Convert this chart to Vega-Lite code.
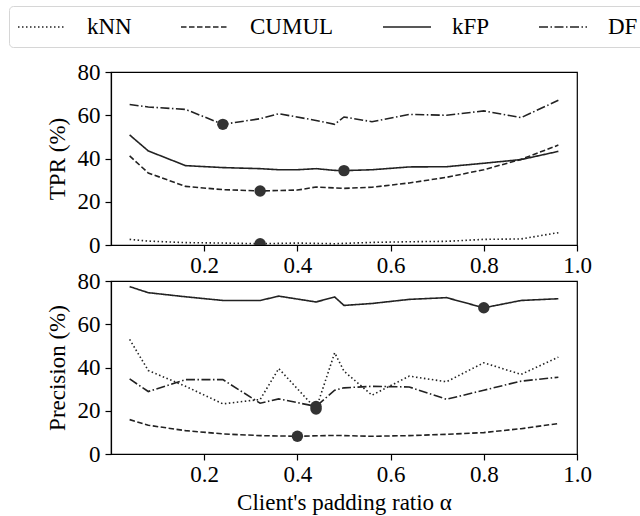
{
  "$schema": "https://vega.github.io/schema/vega-lite/v6.json",
  "padding": {"left": 8, "top": 5, "right": 0, "bottom": 0},
  "bounds": "flush",
  "spacing": 36,
  "config": {
    "font": "Liberation Serif",
    "view": {"stroke": "black", "strokeWidth": 1.2},
    "axis": {
      "domainColor": "black", "domainWidth": 1.2, "tickColor": "black", "tickWidth": 1.2, "tickSize": 6,
      "labelFont": "Liberation Serif", "labelFontSize": 23, "labelColor": "black",
      "titleFont": "Liberation Serif", "titleFontSize": 23, "titleFontWeight": "normal", "titleColor": "black",
      "grid": false
    },
    "axisX": {"labelPadding": 3, "titlePadding": 5, "labelFlush": false},
    "axisY": {"labelPadding": 5, "titlePadding": 8},
    "legend": {
      "title": null, "orient": "none", "legendX": -102, "legendY": -66, "direction": "horizontal", "columns": 4,
      "symbolType": "M-1,0H3", "symbolSize": 576, "symbolStrokeWidth": 1.5, "symbolStrokeColor": "#222222", "symbolFillColor": "transparent",
      "labelFont": "Liberation Serif", "labelFontSize": 23, "labelColor": "black", "labelOffset": 44,
      "columnPadding": 46, "padding": 8, "strokeColor": "#d6d6d6", "fillColor": "white", "cornerRadius": 4
    }
  },
  "resolve": {"scale": {"strokeDash": "shared"}, "legend": {"strokeDash": "shared"}},
  "datasets": {
    "lines": [
      {"p": "TPR", "m": "kNN", "a": 0.04, "v": 2.6},
      {"p": "TPR", "m": "kNN", "a": 0.08, "v": 1.8},
      {"p": "TPR", "m": "kNN", "a": 0.16, "v": 1.1},
      {"p": "TPR", "m": "kNN", "a": 0.24, "v": 0.9},
      {"p": "TPR", "m": "kNN", "a": 0.32, "v": 0.6},
      {"p": "TPR", "m": "kNN", "a": 0.40, "v": 0.9},
      {"p": "TPR", "m": "kNN", "a": 0.48, "v": 0.6},
      {"p": "TPR", "m": "kNN", "a": 0.56, "v": 1.2},
      {"p": "TPR", "m": "kNN", "a": 0.64, "v": 1.5},
      {"p": "TPR", "m": "kNN", "a": 0.72, "v": 1.7},
      {"p": "TPR", "m": "kNN", "a": 0.80, "v": 2.6},
      {"p": "TPR", "m": "kNN", "a": 0.88, "v": 2.8},
      {"p": "TPR", "m": "kNN", "a": 0.96, "v": 5.7},
      {"p": "TPR", "m": "CUMUL", "a": 0.04, "v": 41.2},
      {"p": "TPR", "m": "CUMUL", "a": 0.08, "v": 33.3},
      {"p": "TPR", "m": "CUMUL", "a": 0.16, "v": 27.1},
      {"p": "TPR", "m": "CUMUL", "a": 0.24, "v": 25.6},
      {"p": "TPR", "m": "CUMUL", "a": 0.32, "v": 25.0},
      {"p": "TPR", "m": "CUMUL", "a": 0.40, "v": 25.4},
      {"p": "TPR", "m": "CUMUL", "a": 0.44, "v": 26.8},
      {"p": "TPR", "m": "CUMUL", "a": 0.50, "v": 26.2},
      {"p": "TPR", "m": "CUMUL", "a": 0.56, "v": 26.7},
      {"p": "TPR", "m": "CUMUL", "a": 0.64, "v": 28.7},
      {"p": "TPR", "m": "CUMUL", "a": 0.72, "v": 31.3},
      {"p": "TPR", "m": "CUMUL", "a": 0.80, "v": 34.8},
      {"p": "TPR", "m": "CUMUL", "a": 0.88, "v": 39.6},
      {"p": "TPR", "m": "CUMUL", "a": 0.96, "v": 46.2},
      {"p": "TPR", "m": "kFP", "a": 0.04, "v": 50.9},
      {"p": "TPR", "m": "kFP", "a": 0.08, "v": 43.5},
      {"p": "TPR", "m": "kFP", "a": 0.16, "v": 36.7},
      {"p": "TPR", "m": "kFP", "a": 0.24, "v": 35.8},
      {"p": "TPR", "m": "kFP", "a": 0.32, "v": 35.3},
      {"p": "TPR", "m": "kFP", "a": 0.36, "v": 34.8},
      {"p": "TPR", "m": "kFP", "a": 0.40, "v": 34.8},
      {"p": "TPR", "m": "kFP", "a": 0.44, "v": 35.3},
      {"p": "TPR", "m": "kFP", "a": 0.48, "v": 34.5},
      {"p": "TPR", "m": "kFP", "a": 0.50, "v": 34.4},
      {"p": "TPR", "m": "kFP", "a": 0.56, "v": 34.8},
      {"p": "TPR", "m": "kFP", "a": 0.64, "v": 36.1},
      {"p": "TPR", "m": "kFP", "a": 0.72, "v": 36.2},
      {"p": "TPR", "m": "kFP", "a": 0.80, "v": 37.8},
      {"p": "TPR", "m": "kFP", "a": 0.88, "v": 39.5},
      {"p": "TPR", "m": "kFP", "a": 0.96, "v": 43.3},
      {"p": "TPR", "m": "DF", "a": 0.04, "v": 65.0},
      {"p": "TPR", "m": "DF", "a": 0.08, "v": 63.8},
      {"p": "TPR", "m": "DF", "a": 0.16, "v": 62.7},
      {"p": "TPR", "m": "DF", "a": 0.24, "v": 55.8},
      {"p": "TPR", "m": "DF", "a": 0.32, "v": 58.4},
      {"p": "TPR", "m": "DF", "a": 0.36, "v": 60.7},
      {"p": "TPR", "m": "DF", "a": 0.44, "v": 57.6},
      {"p": "TPR", "m": "DF", "a": 0.48, "v": 55.8},
      {"p": "TPR", "m": "DF", "a": 0.50, "v": 59.2},
      {"p": "TPR", "m": "DF", "a": 0.56, "v": 57.0},
      {"p": "TPR", "m": "DF", "a": 0.64, "v": 60.4},
      {"p": "TPR", "m": "DF", "a": 0.72, "v": 60.0},
      {"p": "TPR", "m": "DF", "a": 0.80, "v": 62.0},
      {"p": "TPR", "m": "DF", "a": 0.88, "v": 58.9},
      {"p": "TPR", "m": "DF", "a": 0.96, "v": 66.9},
      {"p": "Prec", "m": "kNN", "a": 0.04, "v": 53.0},
      {"p": "Prec", "m": "kNN", "a": 0.08, "v": 38.6},
      {"p": "Prec", "m": "kNN", "a": 0.16, "v": 31.3},
      {"p": "Prec", "m": "kNN", "a": 0.24, "v": 23.2},
      {"p": "Prec", "m": "kNN", "a": 0.32, "v": 25.2},
      {"p": "Prec", "m": "kNN", "a": 0.36, "v": 39.5},
      {"p": "Prec", "m": "kNN", "a": 0.44, "v": 20.8},
      {"p": "Prec", "m": "kNN", "a": 0.48, "v": 46.8},
      {"p": "Prec", "m": "kNN", "a": 0.50, "v": 38.3},
      {"p": "Prec", "m": "kNN", "a": 0.56, "v": 27.2},
      {"p": "Prec", "m": "kNN", "a": 0.64, "v": 36.0},
      {"p": "Prec", "m": "kNN", "a": 0.72, "v": 33.4},
      {"p": "Prec", "m": "kNN", "a": 0.80, "v": 42.2},
      {"p": "Prec", "m": "kNN", "a": 0.88, "v": 36.8},
      {"p": "Prec", "m": "kNN", "a": 0.96, "v": 44.8},
      {"p": "Prec", "m": "CUMUL", "a": 0.04, "v": 15.9},
      {"p": "Prec", "m": "CUMUL", "a": 0.08, "v": 13.3},
      {"p": "Prec", "m": "CUMUL", "a": 0.16, "v": 10.8},
      {"p": "Prec", "m": "CUMUL", "a": 0.24, "v": 9.3},
      {"p": "Prec", "m": "CUMUL", "a": 0.32, "v": 8.5},
      {"p": "Prec", "m": "CUMUL", "a": 0.40, "v": 8.2},
      {"p": "Prec", "m": "CUMUL", "a": 0.48, "v": 8.6},
      {"p": "Prec", "m": "CUMUL", "a": 0.56, "v": 8.2},
      {"p": "Prec", "m": "CUMUL", "a": 0.64, "v": 8.5},
      {"p": "Prec", "m": "CUMUL", "a": 0.72, "v": 9.1},
      {"p": "Prec", "m": "CUMUL", "a": 0.80, "v": 9.9},
      {"p": "Prec", "m": "CUMUL", "a": 0.88, "v": 11.7},
      {"p": "Prec", "m": "CUMUL", "a": 0.96, "v": 14.1},
      {"p": "Prec", "m": "kFP", "a": 0.04, "v": 77.4},
      {"p": "Prec", "m": "kFP", "a": 0.08, "v": 74.6},
      {"p": "Prec", "m": "kFP", "a": 0.16, "v": 72.7},
      {"p": "Prec", "m": "kFP", "a": 0.24, "v": 71.0},
      {"p": "Prec", "m": "kFP", "a": 0.32, "v": 71.0},
      {"p": "Prec", "m": "kFP", "a": 0.36, "v": 73.0},
      {"p": "Prec", "m": "kFP", "a": 0.44, "v": 70.3},
      {"p": "Prec", "m": "kFP", "a": 0.48, "v": 72.6},
      {"p": "Prec", "m": "kFP", "a": 0.50, "v": 68.7},
      {"p": "Prec", "m": "kFP", "a": 0.56, "v": 69.6},
      {"p": "Prec", "m": "kFP", "a": 0.64, "v": 71.5},
      {"p": "Prec", "m": "kFP", "a": 0.72, "v": 72.3},
      {"p": "Prec", "m": "kFP", "a": 0.80, "v": 67.6},
      {"p": "Prec", "m": "kFP", "a": 0.88, "v": 71.0},
      {"p": "Prec", "m": "kFP", "a": 0.96, "v": 71.8},
      {"p": "Prec", "m": "DF", "a": 0.04, "v": 34.7},
      {"p": "Prec", "m": "DF", "a": 0.08, "v": 28.9},
      {"p": "Prec", "m": "DF", "a": 0.16, "v": 34.4},
      {"p": "Prec", "m": "DF", "a": 0.24, "v": 34.4},
      {"p": "Prec", "m": "DF", "a": 0.32, "v": 23.5},
      {"p": "Prec", "m": "DF", "a": 0.36, "v": 25.5},
      {"p": "Prec", "m": "DF", "a": 0.44, "v": 22.0},
      {"p": "Prec", "m": "DF", "a": 0.48, "v": 29.5},
      {"p": "Prec", "m": "DF", "a": 0.50, "v": 30.6},
      {"p": "Prec", "m": "DF", "a": 0.56, "v": 31.3},
      {"p": "Prec", "m": "DF", "a": 0.64, "v": 31.0},
      {"p": "Prec", "m": "DF", "a": 0.72, "v": 25.3},
      {"p": "Prec", "m": "DF", "a": 0.80, "v": 29.5},
      {"p": "Prec", "m": "DF", "a": 0.88, "v": 33.7},
      {"p": "Prec", "m": "DF", "a": 0.96, "v": 35.5}
    ],
    "marks": [
      {"p": "TPR", "m": "DF", "a": 0.24, "v": 55.8},
      {"p": "TPR", "m": "CUMUL", "a": 0.32, "v": 25.0},
      {"p": "TPR", "m": "kNN", "a": 0.32, "v": 0.6},
      {"p": "TPR", "m": "kFP", "a": 0.50, "v": 34.4},
      {"p": "Prec", "m": "kFP", "a": 0.80, "v": 67.6},
      {"p": "Prec", "m": "CUMUL", "a": 0.40, "v": 8.2},
      {"p": "Prec", "m": "kNN", "a": 0.44, "v": 20.8},
      {"p": "Prec", "m": "DF", "a": 0.44, "v": 22.0}
    ]
  },
  "vconcat": [
    {
      "width": 466,
      "height": 173,
      "layer": [
        {
          "data": {"name": "lines"},
          "transform": [{"filter": "datum.p === 'TPR'"}],
          "mark": {"type": "line", "color": "#222222", "strokeWidth": 1.6},
          "encoding": {
            "x": {"field": "a", "type": "quantitative", "scale": {"domain": [0, 1], "nice": false},
                  "axis": {"values": [0.2, 0.4, 0.6, 0.8, 1.0], "format": ".1f", "title": null}},
            "y": {"field": "v", "type": "quantitative", "scale": {"domain": [0, 80], "nice": false},
                  "axis": {"values": [0, 20, 40, 60, 80], "title": "TPR (%)"}},
            "strokeDash": {"field": "m", "type": "nominal",
              "scale": {"domain": ["kNN", "CUMUL", "kFP", "DF"], "range": [[1.5, 2.5], [5.5, 2.5], [1, 0], [9, 2.5, 1.5, 2.5]]}},
            "detail": {"field": "m"}
          }
        },
        {
          "data": {"name": "marks"},
          "transform": [{"filter": "datum.p === 'TPR'"}],
          "mark": {"type": "point", "shape": "circle", "filled": true, "color": "#333333", "opacity": 1, "size": 130, "clip": true},
          "encoding": {
            "x": {"field": "a", "type": "quantitative"},
            "y": {"field": "v", "type": "quantitative"}
          }
        }
      ]
    },
    {
      "width": 466,
      "height": 173,
      "layer": [
        {
          "data": {"name": "lines"},
          "transform": [{"filter": "datum.p === 'Prec'"}],
          "mark": {"type": "line", "color": "#222222", "strokeWidth": 1.6},
          "encoding": {
            "x": {"field": "a", "type": "quantitative", "scale": {"domain": [0, 1], "nice": false},
                  "axis": {"values": [0.2, 0.4, 0.6, 0.8, 1.0], "format": ".1f", "title": "Client's padding ratio α"}},
            "y": {"field": "v", "type": "quantitative", "scale": {"domain": [0, 80], "nice": false},
                  "axis": {"values": [0, 20, 40, 60, 80], "title": "Precision (%)"}},
            "strokeDash": {"field": "m", "type": "nominal",
              "scale": {"domain": ["kNN", "CUMUL", "kFP", "DF"], "range": [[1.5, 2.5], [5.5, 2.5], [1, 0], [9, 2.5, 1.5, 2.5]]}},
            "detail": {"field": "m"}
          }
        },
        {
          "data": {"name": "marks"},
          "transform": [{"filter": "datum.p === 'Prec'"}],
          "mark": {"type": "point", "shape": "circle", "filled": true, "color": "#333333", "opacity": 1, "size": 130, "clip": true},
          "encoding": {
            "x": {"field": "a", "type": "quantitative"},
            "y": {"field": "v", "type": "quantitative"}
          }
        }
      ]
    }
  ]
}
